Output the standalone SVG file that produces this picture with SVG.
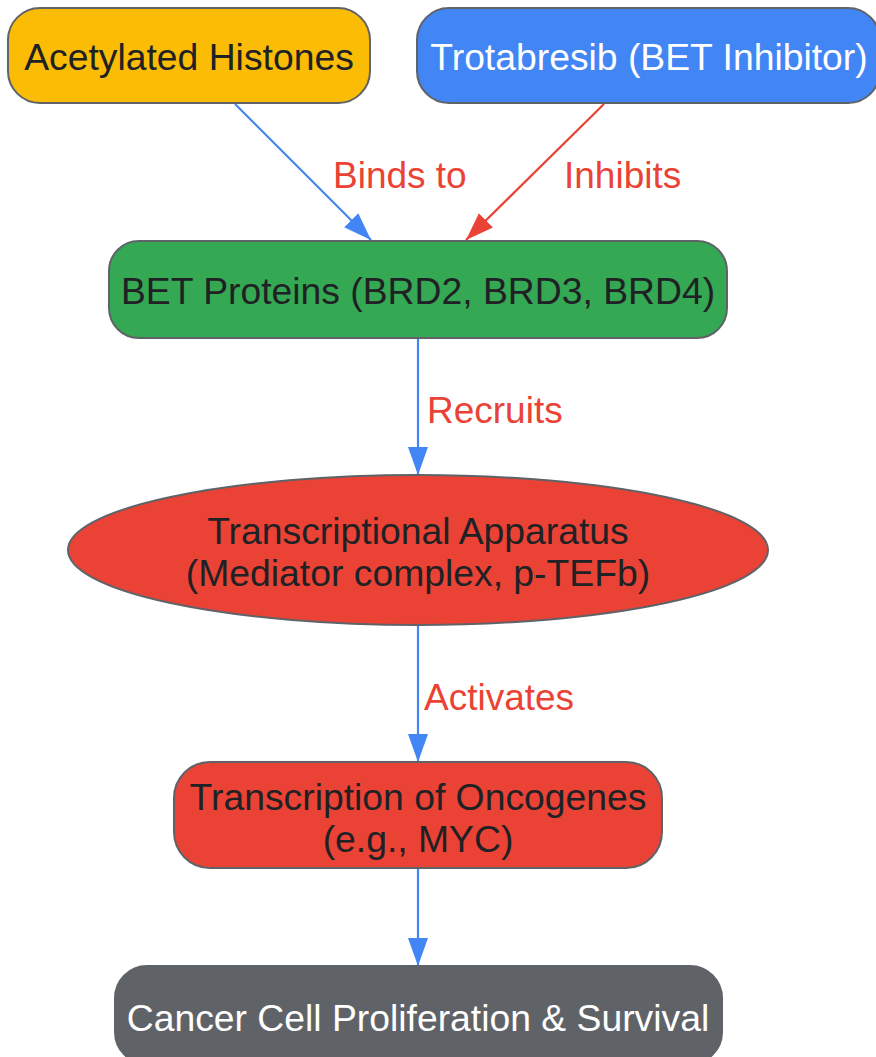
<svg xmlns="http://www.w3.org/2000/svg" width="876" height="1057" viewBox="0 0 876 1057">
<style>
.node{stroke:#5f6368;stroke-width:2}
.t{font-family:"Liberation Sans",Arial,sans-serif;font-size:37.3px;text-anchor:middle}
.dark{fill:#202124}
.light{fill:#ffffff}
.lbl{font-family:"Liberation Sans",Arial,sans-serif;font-size:37px;fill:#EA4335}
.e{fill:none;stroke-width:2.2}
</style>
<defs>
<marker id="ab" markerUnits="userSpaceOnUse" markerWidth="30" markerHeight="22" refX="28" refY="10" orient="auto"><path d="M0,0 L28,10 L0,20 z" fill="#4285F4"/></marker>
<marker id="ar" markerUnits="userSpaceOnUse" markerWidth="30" markerHeight="22" refX="28" refY="10" orient="auto"><path d="M0,0 L28,10 L0,20 z" fill="#EA4335"/></marker>
</defs>
<g id="connectors">
<line class="e" x1="235" y1="104" x2="371" y2="240" stroke="#4285F4" marker-end="url(#ab)"/>
<line class="e" x1="604" y1="104" x2="466" y2="240" stroke="#EA4335" marker-end="url(#ar)"/>
<line class="e" x1="418" y1="339" x2="418" y2="475" stroke="#4285F4" marker-end="url(#ab)"/>
<line class="e" x1="418" y1="626" x2="418" y2="762" stroke="#4285F4" marker-end="url(#ab)"/>
<line class="e" x1="418" y1="869" x2="418" y2="966" stroke="#4285F4" marker-end="url(#ab)"/>
<text class="lbl" x="333" y="188">Binds to</text>
<text class="lbl" x="564" y="188">Inhibits</text>
<text class="lbl" x="427" y="423">Recruits</text>
<text class="lbl" x="424" y="710">Activates</text>
</g>
<g id="acetylated">
<rect class="node" x="8" y="8" width="362" height="95" rx="32" fill="#FBBC05"/>
<text class="t dark" x="189" y="70">Acetylated Histones</text>
</g>
<g id="trotabresib">
<rect class="node" x="417" y="8" width="463" height="95" rx="32" fill="#4285F4"/>
<text class="t light" x="649" y="70">Trotabresib (BET Inhibitor)</text>
</g>
<g id="bet">
<rect class="node" x="109" y="241" width="618" height="97" rx="30" fill="#34A853"/>
<text class="t dark" x="418" y="304">BET Proteins (BRD2, BRD3, BRD4)</text>
</g>
<g id="apparatus">
<ellipse class="node" cx="418" cy="550" rx="350" ry="75" fill="#EA4335"/>
<text class="t dark" x="418" y="544">Transcriptional Apparatus</text>
<text class="t dark" x="418" y="586">(Mediator complex, p-TEFb)</text>
</g>
<g id="oncogenes">
<rect class="node" x="174" y="762" width="488" height="106" rx="36" fill="#EA4335"/>
<text class="t dark" x="418" y="810">Transcription of Oncogenes</text>
<text class="t dark" x="418" y="852">(e.g., MYC)</text>
</g>
<g id="cancer">
<rect class="node" x="115" y="966" width="607" height="98" rx="32" fill="#5F6368"/>
<text class="t light" x="418" y="1031">Cancer Cell Proliferation &amp; Survival</text>
</g>
</svg>
